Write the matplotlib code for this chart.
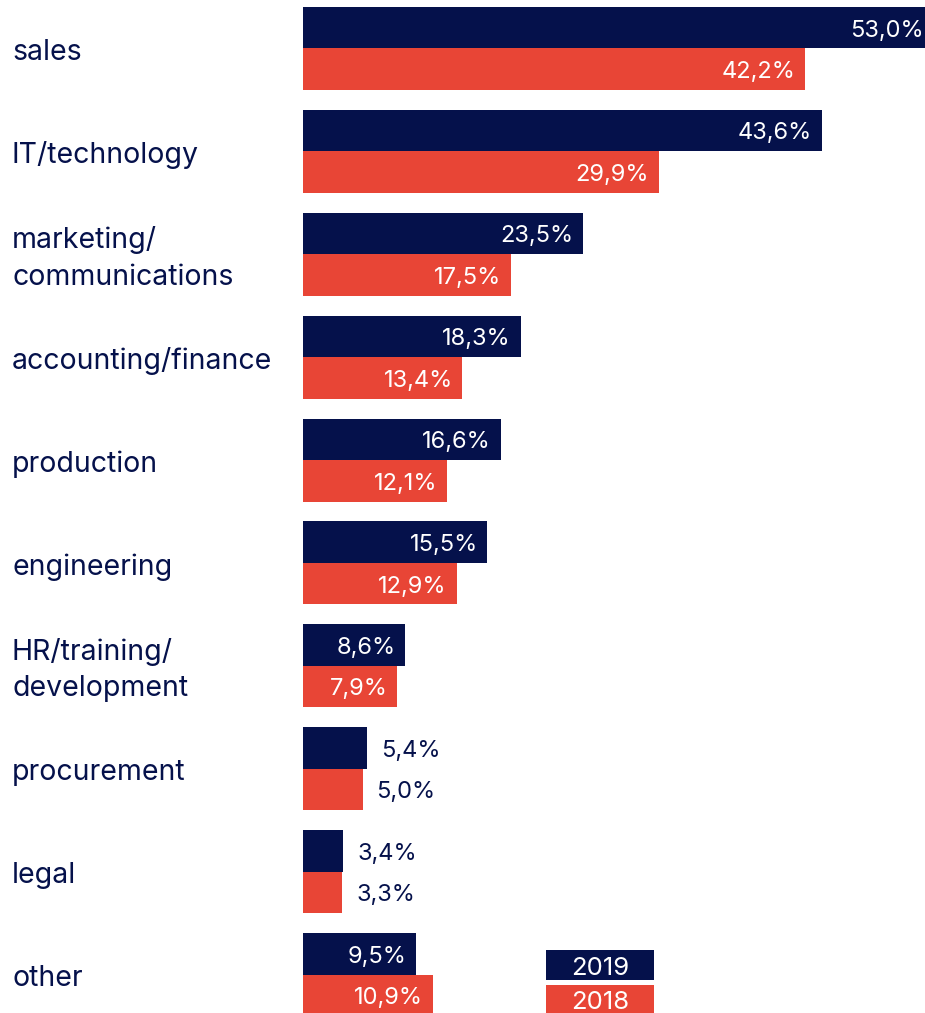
import matplotlib
matplotlib.use("Agg")
import matplotlib.pyplot as plt
import matplotlib.transforms as mtransforms
from matplotlib.patches import Rectangle

# ── Data ───────────────────────────────────────────────────────────────────────

categories = [
    "sales", "IT/technology", "marketing/\ncommunications", "accounting/finance",
    "production", "engineering", "HR/training/\ndevelopment", "procurement",
    "legal", "other",
]
values_2019 = [53.0, 43.6, 23.5, 18.3, 16.6, 15.5, 8.6, 5.4, 3.4, 9.5]
values_2018 = [42.2, 29.9, 17.5, 13.4, 12.1, 12.9, 7.9, 5.0, 3.3, 10.9]
years = ["2019", "2018"]

NAVY = "#05114b"
RED = "#e84536"
FONT = "Inter"

W, H = 925, 1013
fig = plt.figure(figsize=(W / 100, H / 100), dpi=100)

# axes covers the bar area: starts at x=303px, full height
ax = fig.add_axes([303 / W, 0, 1 - 303 / W, 1])
pitch = 102.9
bar_h = 41.5 / pitch
ax.set_xlim(0, 622 / 11.9)
ax.set_ylim((H - 7) / pitch, -7 / pitch)
ax.axis("off")

# x in figure fraction, y in data units
label_tf = mtransforms.blended_transform_factory(fig.transFigure, ax.transData)


def fmt(v):
    return f"{v:.1f}%".replace(".", ",")


def value_label(v, y):
    if v >= 7:
        ax.annotate(fmt(v), (v, y), xytext=(-7, -2), textcoords="offset points",
                    ha="right", va="center", color="white", fontsize=17,
                    family=FONT, annotation_clip=False)
    else:
        ax.annotate(fmt(v), (v, y), xytext=(10, -2), textcoords="offset points",
                    ha="left", va="center", color=NAVY, fontsize=17,
                    family=FONT)


for i, (cat, v19, v18) in enumerate(zip(categories, values_2019, values_2018)):
    y19 = i + bar_h / 2
    y18 = i + bar_h * 1.5
    ax.barh(y19, v19, height=bar_h, color=NAVY, linewidth=0)
    ax.barh(y18, v18, height=bar_h, color=RED, linewidth=0)
    value_label(v19, y19)
    value_label(v18, y18)
    ax.text(12 / W, i + bar_h + 4 / pitch, cat, transform=label_tf,
            ha="left", va="center", color=NAVY, fontsize=20.5, family=FONT,
            linespacing=1.45)

# ── Legend ─────────────────────────────────────────────────────────────────────
leg_boxes = [(950, 980, NAVY), (985, 1013, RED)]
for (top, bottom, col), yr in zip(leg_boxes, years):
    fig.patches.append(Rectangle((546 / W, 1 - bottom / H), 108 / W, (bottom - top) / H,
                                 transform=fig.transFigure, color=col, linewidth=0))
    fig.text(600 / W, 1 - ((top + bottom) / 2 + 3) / H, yr, ha="center", va="center",
             color="white", fontsize=18.5, family=FONT)

fig.savefig("out.png", dpi=100)
